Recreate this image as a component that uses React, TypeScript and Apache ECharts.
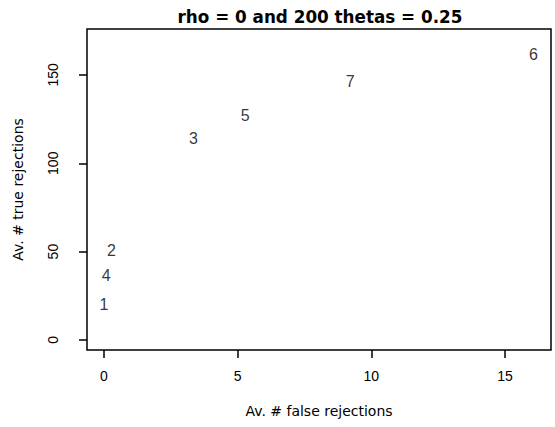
import React, { useEffect, useRef } from "react";
import * as echarts from "echarts";

const labels = ["1", "2", "3", "4", "5", "6", "7"];
const falseRej = [0.0, 0.28, 3.35, 0.09, 5.29, 16.06, 9.21];
const trueRej = [19.8, 50.5, 114.1, 36.2, 127.3, 161.3, 146.2];
const xTicks = [0, 5, 10, 15];
const yTicks = [0, 50, 100, 150];
const titleText = "rho = 0 and 200 thetas = 0.25";
const xName = "Av. # false rejections";
const yName = "Av. # true rejections";

export default function App() {
  const ref = useRef<HTMLDivElement>(null);
  useEffect(() => {
    if (!ref.current) return;
    const chart = echarts.init(ref.current, null, { renderer: "svg" });
    const font = "'Liberation Sans', Arial, sans-serif";
    const wide = "'DejaVu Sans', sans-serif";
    chart.setOption({
      animation: false,
      backgroundColor: "#ffffff",
      textStyle: { fontFamily: font, color: "#000" },
      title: {
        text: titleText,
        left: 315,
        textAlign: "center",
        top: 3,
        textStyle: { fontFamily: wide, fontWeight: "bold", fontSize: 16.8, color: "#000" },
      },
      grid: {
        left: 87,
        right: 4,
        top: 29,
        bottom: 77,
        show: true,
        borderColor: "#000",
        borderWidth: 1.5,
        containLabel: false,
      },
      xAxis: {
        type: "value",
        min: -0.63,
        max: 16.72,
        name: xName,
        nameLocation: "middle",
        nameGap: 54,
        nameTextStyle: { fontFamily: wide, fontSize: 14, color: "#000" },
        axisLine: { show: false, onZero: false },
        splitLine: { show: false },
        axisTick: {
          show: true,
          inside: false,
          length: 8,
          customValues: xTicks,
          lineStyle: { color: "#000", width: 1.5 },
        },
        axisLabel: {
          customValues: xTicks,
          margin: 19,
          fontFamily: font,
          fontSize: 14,
          color: "#000",
        },
      },
      yAxis: {
        type: "value",
        min: -5.7,
        max: 176,
        name: yName,
        nameLocation: "middle",
        nameRotate: 90,
        nameGap: 62,
        nameTextStyle: { fontFamily: wide, fontSize: 14, color: "#000" },
        axisLine: { show: false, onZero: false },
        splitLine: { show: false },
        axisTick: {
          show: true,
          inside: false,
          length: 8,
          customValues: yTicks,
          lineStyle: { color: "#000", width: 1.5 },
        },
        axisLabel: {
          customValues: yTicks,
          rotate: 90,
          margin: 27,
          fontFamily: font,
          fontSize: 14,
          color: "#000",
        },
      },
      series: [
        {
          type: "scatter",
          symbolSize: 0,
          data: labels.map((l, i) => ({ value: [falseRej[i], trueRej[i]], name: l })),
          label: {
            show: true,
            position: "inside",
            formatter: (p: any) => p.name,
            fontFamily: font,
            fontSize: 16,
            color: "#000",
          },
        },
      ],
    });
    return () => chart.dispose();
  }, []);
  return (
    <div
      ref={ref}
      style={{ position: "fixed", left: 0, top: 0, width: 555, height: 427 }}
    />
  );
}
